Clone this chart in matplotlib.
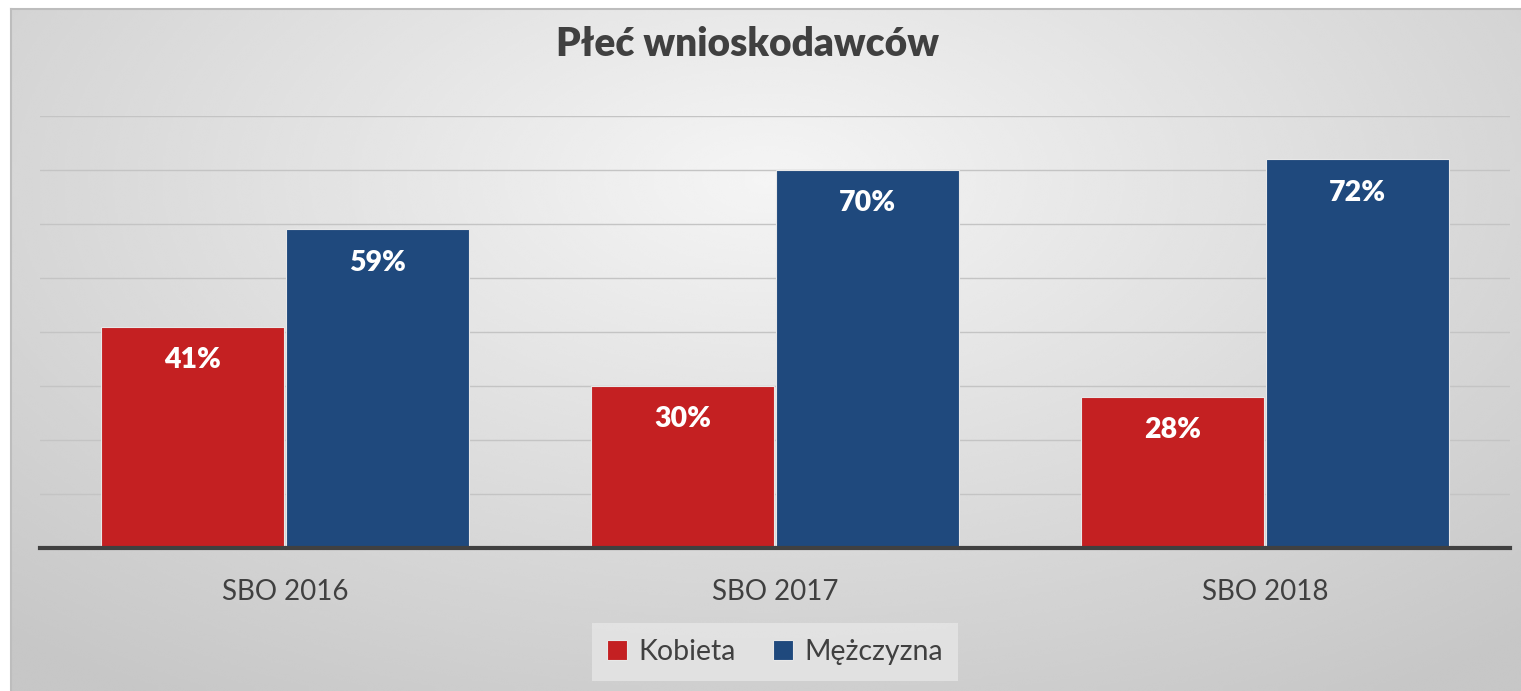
import matplotlib.pyplot as plt
import numpy as np

# Data
categories = ['SBO 2016', 'SBO 2017', 'SBO 2018']
kobieta = [0.41, 0.30, 0.28]
mezczyzna = [0.59, 0.70, 0.72]
series_names = ['Kobieta', 'Mężczyzna']

red = '#C42022'
blue = '#1F497D'
text_color = '#404040'

plt.rcParams['font.family'] = ['Lato', 'DejaVu Sans']

fig = plt.figure(figsize=(15.21, 6.91), dpi=100)

# Background with radial gradient (chart area starts slightly in from top-left)
bg = fig.add_axes([11 / 1521, 0, 1 - 11 / 1521, 1 - 9 / 691])
yy, xx = np.mgrid[0:1:300j, 0:1:600j]
r = np.sqrt(((xx - 0.5) / 0.75) ** 2 + ((yy - 0.25) / 0.9) ** 2)
shade = 0.96 - 0.18 * np.clip(r, 0, 1)
bg.imshow(shade, cmap='gray', vmin=0, vmax=1, aspect='auto',
          extent=[0, 1, 1, 0], interpolation='bicubic')
bg.set_xlim(0, 1)
bg.set_ylim(1, 0)
for s in ['top', 'left']:
    bg.spines[s].set_color('#bdbdbd')
    bg.spines[s].set_linewidth(1.5)
for s in ['bottom', 'right']:
    bg.spines[s].set_visible(False)
bg.set_xticks([])
bg.set_yticks([])

# Main plot area
ax = fig.add_axes([40 / 1521, 143 / 691, 1470 / 1521, 432 / 691])
ax.patch.set_alpha(0)

x = np.arange(len(categories))
w = 0.373
off = 0.188

b1 = ax.bar(x - off, kobieta, w, color=red, edgecolor='#e8e8e8', linewidth=0.8,
            label=series_names[0], zorder=3)
b2 = ax.bar(x + off, mezczyzna, w, color=blue, edgecolor='#e8e8e8', linewidth=0.8,
            label=series_names[1], zorder=3)

for bars in [b1, b2]:
    for bar in bars:
        ax.annotate(f'{bar.get_height() * 100:.0f}%',
                    (bar.get_x() + bar.get_width() / 2, bar.get_height()),
                    xytext=(0, -24), textcoords='offset points',
                    ha='center', va='center', color='white',
                    fontsize=20.5, fontweight='heavy', zorder=4)

ax.set_xlim(-0.5, 2.5)
ax.set_ylim(0, 0.8)
ax.set_yticks(np.arange(0, 0.81, 0.1))
ax.yaxis.grid(True, color='#c4c4c4', linewidth=1, zorder=0)
ax.set_axisbelow(True)
ax.tick_params(axis='y', length=0, labelleft=False)
ax.tick_params(axis='x', length=0, pad=22, labelsize=20, labelcolor=text_color)
ax.set_xticks(x)
ax.set_xticklabels(categories)

for s in ['top', 'left', 'right']:
    ax.spines[s].set_visible(False)
ax.spines['bottom'].set_color('#404040')
ax.spines['bottom'].set_linewidth(3)
ax.spines['bottom'].set_zorder(5)

fig.text(747 / 1521, 1 - 45 / 691, 'Płeć wnioskodawców', ha='center', va='center',
         fontsize=28, fontweight='heavy', color=text_color)

leg = fig.legend(loc='center', bbox_to_anchor=(775 / 1521, 1 - 652 / 691),
                 ncol=2, fontsize=20.5, frameon=True, fancybox=False,
                 handlelength=0.7, handleheight=0.7, handletextpad=0.4,
                 columnspacing=1.3, borderpad=0.55, borderaxespad=0)
leg.get_frame().set_facecolor('#e6e6e6')
leg.get_frame().set_edgecolor('none')
for t in leg.get_texts():
    t.set_color(text_color)

fig.savefig('out.png', dpi=100)
